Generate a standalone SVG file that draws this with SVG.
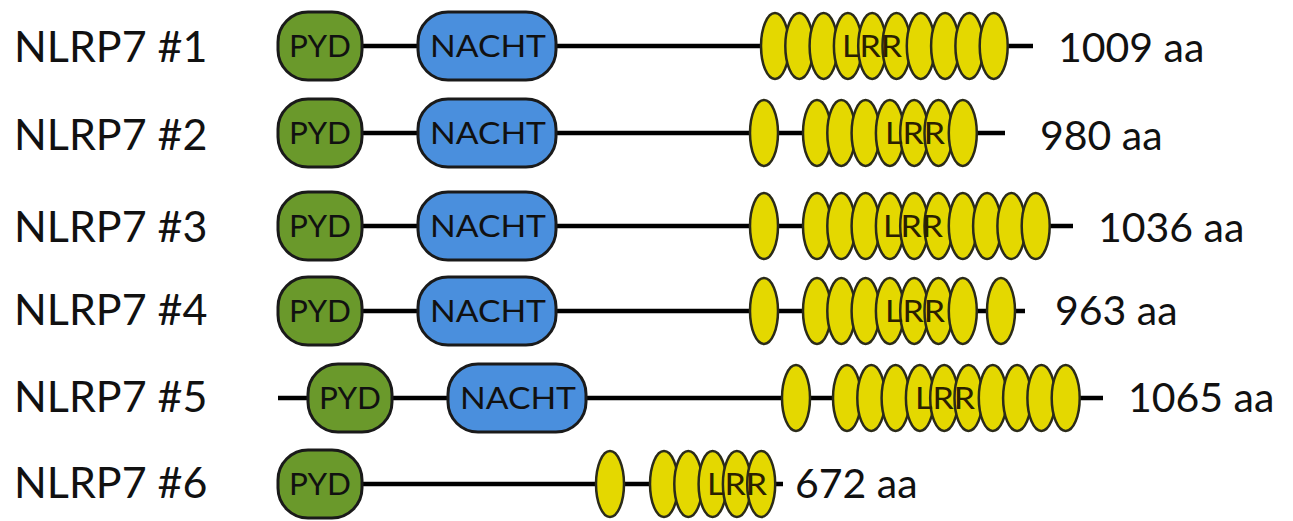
<svg xmlns="http://www.w3.org/2000/svg" width="1293" height="521" viewBox="0 0 1293 521">
<style>
.bg{fill:#ffffff}
.bb{stroke:#000;stroke-width:4.5;fill:none}
.pyd{fill:#6a992b;stroke:#1a1a1a;stroke-width:3}
.nacht{fill:#4a8fdd;stroke:#1a1a1a;stroke-width:3}
.lrr{fill:#e4d800;stroke:#2b2b1a;stroke-width:2.5}
.lab{font-family:Lato,"Liberation Sans",sans-serif;font-size:43px;fill:#111}
.num{font-family:Lato,"Liberation Sans",sans-serif;font-size:41px;fill:#111}
.dt{font-family:Lato,"Liberation Sans",sans-serif;font-size:31px;fill:#111;text-anchor:middle}
.lt{font-family:Lato,"Liberation Sans",sans-serif;font-size:31px;fill:#2a2000;text-anchor:middle}
</style>
<defs>
<ellipse id="e" class="lrr" cx="0" cy="0" rx="14" ry="33"/>
</defs>
<rect class="bg" x="0" y="0" width="1293" height="521"/>
<g id="connectors">
<line class="bb" x1="320" y1="46" x2="1033" y2="46"/>
<line class="bb" x1="320" y1="133" x2="1005" y2="133"/>
<line class="bb" x1="320" y1="226" x2="1073" y2="226"/>
<line class="bb" x1="320" y1="311" x2="1025" y2="311"/>
<line class="bb" x1="278" y1="398" x2="1103" y2="398"/>
<line class="bb" x1="320" y1="484" x2="783" y2="484"/>
</g>
<g id="labels">
<text class="lab" x="14" y="62">NLRP7 #1</text>
<text class="lab" x="14" y="150">NLRP7 #2</text>
<text class="lab" x="14" y="242">NLRP7 #3</text>
<text class="lab" x="14" y="325">NLRP7 #4</text>
<text class="lab" x="14" y="412">NLRP7 #5</text>
<text class="lab" x="14" y="498">NLRP7 #6</text>
<text class="num" x="1058" y="62">1009 aa</text>
<text class="num" x="1040" y="150">980 aa</text>
<text class="num" x="1098" y="242">1036 aa</text>
<text class="num" x="1055" y="325">963 aa</text>
<text class="num" x="1128" y="412">1065 aa</text>
<text class="num" x="795" y="498">672 aa</text>
</g>
<g id="row1">
<g id="pyd1"><rect class="pyd" x="278" y="12" width="84" height="68" rx="30"/><text class="dt" x="320" y="57" textLength="62" lengthAdjust="spacingAndGlyphs">PYD</text></g>
<g id="nacht1"><rect class="nacht" x="418" y="12" width="138" height="68" rx="30"/><text class="dt" x="488" y="57" textLength="116" lengthAdjust="spacingAndGlyphs">NACHT</text></g>
<g id="lrr1">
<use href="#e" x="775" y="46"/><use href="#e" x="799.3" y="46"/><use href="#e" x="823.6" y="46"/><use href="#e" x="847.9" y="46"/><use href="#e" x="872.2" y="46"/><use href="#e" x="896.5" y="46"/><use href="#e" x="920.8" y="46"/><use href="#e" x="945.1" y="46"/><use href="#e" x="969.4" y="46"/><use href="#e" x="993.7" y="46"/>
<text class="lt" x="872" y="57" textLength="60" lengthAdjust="spacingAndGlyphs">LRR</text>
</g>
</g>
<g id="row2">
<g id="pyd2"><rect class="pyd" x="278" y="99" width="84" height="68" rx="30"/><text class="dt" x="320" y="144" textLength="62" lengthAdjust="spacingAndGlyphs">PYD</text></g>
<g id="nacht2"><rect class="nacht" x="418" y="99" width="138" height="68" rx="30"/><text class="dt" x="488" y="144" textLength="116" lengthAdjust="spacingAndGlyphs">NACHT</text></g>
<g id="lrr2">
<use href="#e" x="764" y="133"/>
<use href="#e" x="817" y="133"/><use href="#e" x="841.3" y="133"/><use href="#e" x="865.6" y="133"/><use href="#e" x="889.9" y="133"/><use href="#e" x="914.2" y="133"/><use href="#e" x="938.5" y="133"/><use href="#e" x="962.8" y="133"/>
<text class="lt" x="915" y="144" textLength="60" lengthAdjust="spacingAndGlyphs">LRR</text>
</g>
</g>
<g id="row3">
<g id="pyd3"><rect class="pyd" x="278" y="192" width="84" height="68" rx="30"/><text class="dt" x="320" y="237" textLength="62" lengthAdjust="spacingAndGlyphs">PYD</text></g>
<g id="nacht3"><rect class="nacht" x="418" y="192" width="138" height="68" rx="30"/><text class="dt" x="488" y="237" textLength="116" lengthAdjust="spacingAndGlyphs">NACHT</text></g>
<g id="lrr3">
<use href="#e" x="764" y="226"/>
<use href="#e" x="817" y="226"/><use href="#e" x="841.3" y="226"/><use href="#e" x="865.6" y="226"/><use href="#e" x="889.9" y="226"/><use href="#e" x="914.2" y="226"/><use href="#e" x="938.5" y="226"/><use href="#e" x="962.8" y="226"/><use href="#e" x="987.1" y="226"/><use href="#e" x="1011.4" y="226"/><use href="#e" x="1035.7" y="226"/>
<text class="lt" x="913" y="237" textLength="60" lengthAdjust="spacingAndGlyphs">LRR</text>
</g>
</g>
<g id="row4">
<g id="pyd4"><rect class="pyd" x="278" y="277" width="84" height="68" rx="30"/><text class="dt" x="320" y="322" textLength="62" lengthAdjust="spacingAndGlyphs">PYD</text></g>
<g id="nacht4"><rect class="nacht" x="418" y="277" width="138" height="68" rx="30"/><text class="dt" x="488" y="322" textLength="116" lengthAdjust="spacingAndGlyphs">NACHT</text></g>
<g id="lrr4">
<use href="#e" x="764" y="311"/>
<use href="#e" x="817" y="311"/><use href="#e" x="841.3" y="311"/><use href="#e" x="865.6" y="311"/><use href="#e" x="889.9" y="311"/><use href="#e" x="914.2" y="311"/><use href="#e" x="938.5" y="311"/><use href="#e" x="962.8" y="311"/>
<use href="#e" x="1001" y="311"/>
<text class="lt" x="915" y="322" textLength="60" lengthAdjust="spacingAndGlyphs">LRR</text>
</g>
</g>
<g id="row5">
<g id="pyd5"><rect class="pyd" x="308" y="364" width="84" height="68" rx="30"/><text class="dt" x="350" y="409" textLength="62" lengthAdjust="spacingAndGlyphs">PYD</text></g>
<g id="nacht5"><rect class="nacht" x="448" y="364" width="138" height="68" rx="30"/><text class="dt" x="518" y="409" textLength="116" lengthAdjust="spacingAndGlyphs">NACHT</text></g>
<g id="lrr5">
<use href="#e" x="796" y="398"/>
<use href="#e" x="847" y="398"/><use href="#e" x="871.3" y="398"/><use href="#e" x="895.6" y="398"/><use href="#e" x="919.9" y="398"/><use href="#e" x="944.2" y="398"/><use href="#e" x="968.5" y="398"/><use href="#e" x="992.8" y="398"/><use href="#e" x="1017.1" y="398"/><use href="#e" x="1041.4" y="398"/><use href="#e" x="1065.7" y="398"/>
<text class="lt" x="945" y="409" textLength="60" lengthAdjust="spacingAndGlyphs">LRR</text>
</g>
</g>
<g id="row6">
<g id="pyd6"><rect class="pyd" x="278" y="450" width="84" height="68" rx="30"/><text class="dt" x="320" y="495" textLength="62" lengthAdjust="spacingAndGlyphs">PYD</text></g>
<g id="lrr6">
<use href="#e" x="610" y="484"/>
<use href="#e" x="664" y="484"/><use href="#e" x="688.3" y="484"/><use href="#e" x="712.6" y="484"/><use href="#e" x="736.9" y="484"/><use href="#e" x="761.2" y="484"/>
<text class="lt" x="737" y="495" textLength="60" lengthAdjust="spacingAndGlyphs">LRR</text>
</g>
</g>
</svg>
